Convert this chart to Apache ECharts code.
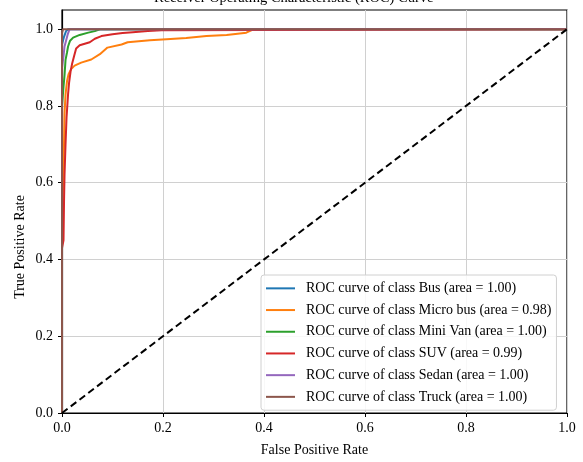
<!DOCTYPE html>
<html>
<head>
<meta charset="utf-8">
<script src="https://cdn.jsdelivr.net/npm/echarts@6/dist/echarts.min.js"></script>
<style>html,body{margin:0;padding:0;background:#fff;}#c{width:583px;height:462px;}</style>
</head>
<body>
<div id="c"></div>
<script>
var titleText = 'Receiver Operating Characteristic (ROC) Curve';
var xName = 'False Positive Rate';
var yName = 'True Positive Rate';
var tickValues = [0, 0.2, 0.4, 0.6, 0.8, 1.0];
var classNames = ['Bus', 'Micro bus', 'Mini Van', 'SUV', 'Sedan', 'Truck'];
var classAreas = ['1.00', '0.98', '1.00', '0.99', '1.00', '1.00'];
var classColors = ['#1f77b4', '#ff7f0e', '#2ca02c', '#d62728', '#9467bd', '#8c564b'];

var busData = [[0,0],[0,0.96],[0.004,0.98],[0.008,0.995],[0.012,1],[1,1]];
var microBusData = [[0,0],[0,0.5],[0.002,0.6],[0.004,0.7],[0.005,0.78],[0.007,0.83],[0.01,0.865],[0.013,0.883],[0.018,0.896],[0.025,0.905],[0.038,0.913],[0.058,0.921],[0.075,0.935],[0.09,0.952],[0.118,0.96],[0.13,0.966],[0.174,0.971],[0.207,0.974],[0.246,0.977],[0.286,0.982],[0.326,0.985],[0.365,0.991],[0.38,1],[1,1]];
var miniVanData = [[0,0],[0,0.8],[0.003,0.85],[0.005,0.88],[0.007,0.92],[0.01,0.94],[0.012,0.955],[0.016,0.97],[0.022,0.978],[0.035,0.985],[0.052,0.991],[0.065,0.995],[0.075,1],[1,1]];
var suvData = [[0,0],[0,0.43],[0.003,0.45],[0.004,0.55],[0.005,0.62],[0.007,0.7],[0.009,0.77],[0.012,0.83],[0.014,0.86],[0.017,0.89],[0.02,0.91],[0.024,0.93],[0.028,0.95],[0.035,0.958],[0.045,0.962],[0.055,0.966],[0.065,0.975],[0.078,0.982],[0.1,0.987],[0.12,0.99],[0.14,0.992],[0.17,0.995],[0.197,0.997],[0.2,1],[1,1]];
var sedanData = [[0,0],[0,0.9],[0.003,0.93],[0.005,0.955],[0.008,0.97],[0.011,0.985],[0.015,1],[1,1]];
var truckData = [[0,0],[0,0.99],[0.002,1],[1,1]];
var diagonalData = [[0,0],[1,1]];

var allData = [busData, microBusData, miniVanData, suvData, sedanData, truckData];
var font = 'Liberation Serif';

var series = classNames.map(function (n, i) {
  return {
    name: 'ROC curve of class ' + n + ' (area = ' + classAreas[i] + ')',
    type: 'line',
    data: allData[i],
    symbol: 'none',
    color: classColors[i],
    lineStyle: { width: 2, color: classColors[i] },
    animation: false,
    z: 3 + i
  };
});
series.push({
  name: 'diag',
  type: 'line',
  data: diagonalData,
  symbol: 'none',
  lineStyle: { width: 2, color: '#000', type: [7, 4] },
  animation: false,
  z: 10
});

var chart = echarts.init(document.getElementById('c'), null, { renderer: 'canvas' });
chart.setOption({
  backgroundColor: '#fff',
  animation: false,
  title: {
    text: titleText,
    left: 149, top: -14,
    textStyle: { fontFamily: font, fontSize: 14.5, fontWeight: 'normal', color: '#000' }
  },
  graphic: [{
    type: 'text', x: 20, y: 247, rotation: Math.PI / 2,
    style: { text: yName, fontFamily: font, fontSize: 14, fill: '#000', align: 'center', verticalAlign: 'middle' }
  }],
  grid: { left: 62, right: 16, top: 10, bottom: 43, show: true, borderColor: '#000', borderWidth: 1.2, backgroundColor: 'transparent' },
  legend: {
    data: series.slice(0, 6).map(function (s) { return s.name; }),
    orient: 'vertical',
    left: 261, top: 275,
    padding: [2.5, 5, 2.5, 5],
    icon: 'rect',
    itemWidth: 29, itemHeight: 2, itemGap: 0,
    backgroundColor: 'rgba(255,255,255,0.85)',
    borderColor: '#d0d0d0', borderWidth: 1, borderRadius: 3,
    textStyle: { fontFamily: font, fontSize: 14, color: '#000', lineHeight: 21.7, padding: [0, 0, 0, 6] }
  },
  xAxis: {
    type: 'value', min: 0, max: 1, interval: 0.2,
    name: xName, nameLocation: 'middle', nameGap: 30,
    nameTextStyle: { fontFamily: font, fontSize: 14, color: '#000' },
    axisLine: { show: true, lineStyle: { color: '#000', width: 1.2 } },
    axisTick: { show: true, length: 4, lineStyle: { color: '#000' } },
    axisLabel: { fontFamily: font, fontSize: 14, color: '#000', margin: 8, formatter: function (v) { return v.toFixed(1); } },
    splitLine: { show: true, lineStyle: { color: '#d0d0d0', width: 1 } }
  },
  yAxis: {
    type: 'value', min: 0, max: 1.05, interval: 0.2,
    axisLine: { show: true, lineStyle: { color: '#000', width: 1.2 } },
    axisTick: { show: true, length: 4, lineStyle: { color: '#000' }, customValues: tickValues },
    axisLabel: { fontFamily: font, fontSize: 14, color: '#000', margin: 9, customValues: tickValues,
      formatter: function (v) { return v.toFixed(1); } },
    splitLine: { show: true, lineStyle: { color: '#d0d0d0', width: 1 } }
  },
  series: series
});
</script>
</body>
</html>
